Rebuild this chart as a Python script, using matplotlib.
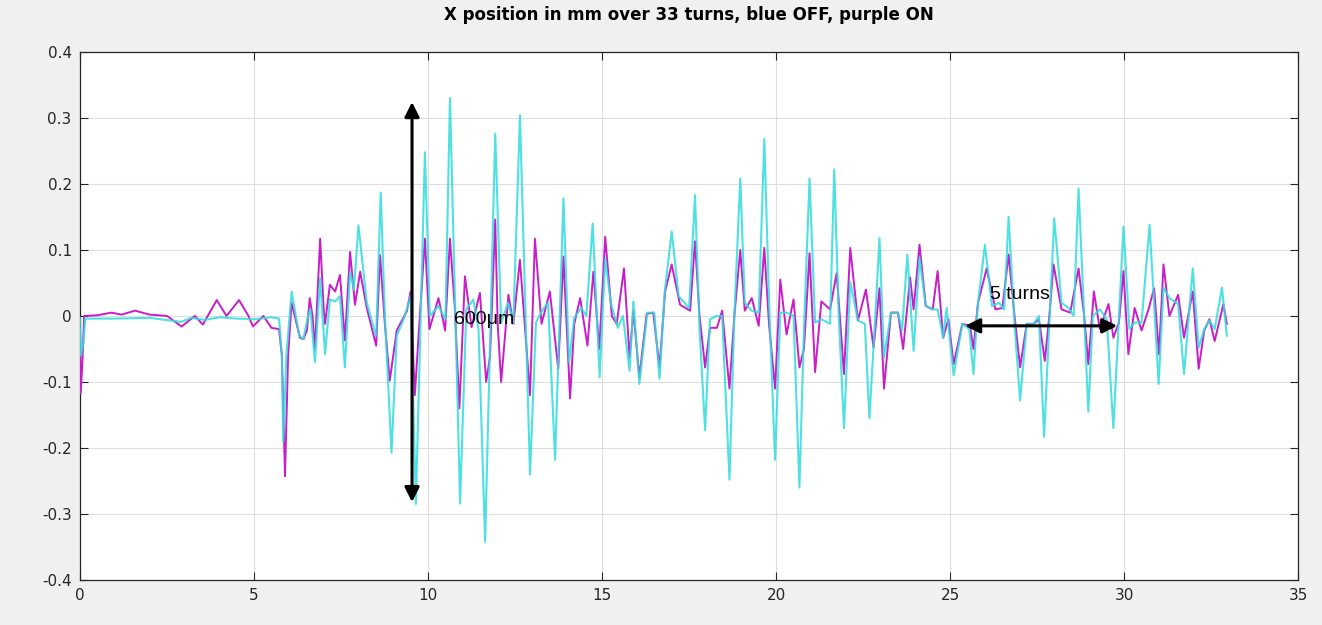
import matplotlib
matplotlib.use("Agg")
import matplotlib.pyplot as plt
from matplotlib.ticker import FuncFormatter, MultipleLocator

plt.rcParams["axes.unicode_minus"] = False

# X position (mm) vs turns, beam OFF (cyan)
off_turns = [
    0, 0.03, 0.1, 0.15, 1.0, 2.0, 2.9, 3.2, 3.6, 4.0, 4.5, 5.0, 5.5, 5.72,
    5.80, 5.84, 5.93, 6.08, 6.3, 6.42, 6.55, 6.62, 6.75, 6.9, 7.04, 7.18, 7.33, 7.47,
    7.61, 7.76, 7.87, 8.0, 8.24, 8.45, 8.51, 8.64, 8.76, 8.95, 9.1, 9.3, 9.5,
    9.65, 9.91, 10.05, 10.3, 10.5, 10.63, 10.92, 11.1, 11.3, 11.45, 11.64, 11.93,
    12.1, 12.3, 12.45, 12.64, 12.93, 13.1, 13.3, 13.45, 13.65, 13.89,
    14.05, 14.2, 14.4, 14.55, 14.73, 14.93, 15.09, 15.25, 15.45, 15.6, 15.79, 15.9,
    16.07, 16.3, 16.5, 16.65, 16.8, 17.0, 17.2, 17.5,
    17.67, 17.8, 17.96, 18.1, 18.3, 18.45, 18.66, 18.8, 18.97, 19.1, 19.3, 19.5,
    19.66, 19.8, 19.97, 20.12, 20.3, 20.5, 20.67, 20.8, 20.96, 21.12, 21.3, 21.55,
    21.67, 21.8, 21.95, 22.13, 22.35, 22.55, 22.68, 22.85, 22.97, 23.1, 23.3, 23.5,
    23.62, 23.77, 23.95, 24.12, 24.3, 24.5, 24.64, 24.8, 24.9, 25.1, 25.35, 25.55,
    25.67, 25.8, 26.0, 26.2, 26.4, 26.55, 26.68, 26.85, 27.01, 27.2, 27.4, 27.55,
    27.7, 27.85, 27.99, 28.2, 28.4, 28.55, 28.69, 28.85, 28.97, 29.1, 29.3, 29.5,
    29.69, 29.85, 29.98, 30.15, 30.3, 30.5, 30.73, 30.99, 31.13, 31.3, 31.55, 31.72,
    31.97, 32.14, 32.3, 32.45, 32.6, 32.81, 32.95,
]
off_pos = [
    -0.003, -0.06, -0.04, -0.004, -0.004, -0.003, -0.009, -0.003, -0.006, -0.002, -0.004, -0.005, -0.002, -0.004,
    -0.06, -0.19, -0.06, 0.037, -0.03, -0.035, 0.0, 0.01, -0.07, 0.057, -0.058, 0.025, 0.022, 0.03,
    -0.078, 0.067, 0.04, 0.137, 0.02, -0.02, -0.03, 0.187, 0.0, -0.207, -0.03, -0.005, 0.03,
    -0.285, 0.248, 0.0, 0.015, -0.005, 0.33, -0.284, 0.01, 0.025, -0.02, -0.342, 0.276,
    -0.01, 0.02, -0.01, 0.304, -0.24, -0.01, 0.01, 0.02, -0.218, 0.178,
    -0.07, -0.003, 0.012, 0.0, 0.14, -0.093, 0.087, 0.02, -0.018, 0.0, -0.083, 0.022,
    -0.103, 0.005, 0.005, -0.095, 0.037, 0.128, 0.03, 0.012,
    0.183, -0.02, -0.173, -0.005, 0.0, 0.0, -0.248, 0.0, 0.208, 0.02, 0.008, 0.005,
    0.268, 0.018, -0.218, 0.005, 0.005, 0.0, -0.26, -0.02, 0.208, -0.01, -0.005, -0.012,
    0.222, 0.0, -0.17, 0.052, -0.007, -0.012, -0.155, 0.0, 0.118, -0.063, 0.005, 0.005,
    -0.022, 0.093, -0.053, 0.088, 0.015, 0.01, 0.01, -0.033, 0.012, -0.09, -0.012, -0.02,
    -0.088, 0.02, 0.108, 0.015, 0.02, 0.01, 0.15, -0.012, -0.128, -0.012, -0.012, 0.0,
    -0.183, -0.012, 0.148, 0.02, 0.012, 0.0, 0.193, 0.0, -0.145, 0.0, 0.01, -0.005,
    -0.17, 0.0, 0.135, -0.02, -0.01, -0.01, 0.138, -0.103, 0.043, 0.027, 0.018, -0.088,
    0.072, -0.048, -0.02, -0.007, -0.02, 0.043, -0.03,
]

# beam ON (magenta)
on_turns = [
    0, 0.02, 0.07, 0.12, 0.5, 0.9, 1.2, 1.58, 2.0, 2.5, 2.92, 3.3, 3.53, 3.93,
    4.21, 4.57, 4.84, 4.97, 5.27, 5.5, 5.72, 5.80, 5.89, 5.98, 6.08, 6.32, 6.42, 6.52,
    6.6, 6.68, 6.75, 6.9, 7.0, 7.04, 7.18, 7.33, 7.47, 7.61, 7.76, 7.9, 8.05, 8.24,
    8.51, 8.62, 8.76, 8.9, 9.1, 9.39, 9.5, 9.62, 9.75, 9.91, 10.04, 10.3,
    10.49, 10.63, 10.77, 10.9, 11.06, 11.25, 11.49, 11.67, 11.78, 11.93, 12.0, 12.1,
    12.31, 12.45, 12.64, 12.93, 13.07, 13.26, 13.5, 13.74, 13.89, 14.08, 14.2, 14.37,
    14.58, 14.75, 14.92, 15.09, 15.28, 15.42, 15.63, 15.79, 15.9, 16.07, 16.28, 16.47,
    16.65, 16.81, 17.0, 17.24, 17.53, 17.67, 17.8, 17.96, 18.1, 18.3, 18.45, 18.66,
    18.8, 18.97, 19.1, 19.3, 19.5, 19.66, 19.8, 19.97, 20.12, 20.3, 20.5, 20.67,
    20.8, 20.96, 21.12, 21.3, 21.55, 21.74, 21.95, 22.13, 22.35, 22.58, 22.8, 22.97,
    23.1, 23.3, 23.5, 23.65, 23.85, 23.95, 24.12, 24.3, 24.5, 24.64, 24.8, 24.95,
    25.1, 25.35, 25.57, 25.67, 25.8, 26.05, 26.3, 26.5, 26.68, 26.85, 27.01, 27.2,
    27.4, 27.55, 27.72, 27.85, 27.97, 28.2, 28.45, 28.69, 28.85, 28.97, 29.13, 29.3,
    29.55, 29.69, 29.85, 29.98, 30.12, 30.3, 30.5, 30.7, 30.86, 31.0, 31.13, 31.3,
    31.55, 31.72, 31.97, 32.14, 32.3, 32.45, 32.6, 32.85, 32.95,
]
on_pos = [
    -0.02, -0.117, -0.07, 0.0, 0.001, 0.005, 0.002, 0.008, 0.002, 0.0, -0.016, 0.0, -0.013, 0.024,
    0.0, 0.024, 0.0, -0.016, 0.0, -0.018, -0.02, -0.06, -0.243, -0.06, 0.02, -0.033, -0.035, -0.022,
    0.027, 0.0, -0.05, 0.117, 0.012, -0.012, 0.047, 0.037, 0.062, -0.037, 0.097, 0.017, 0.067, 0.012,
    -0.045, 0.092, -0.012, -0.098, -0.022, 0.007, 0.037, -0.12, -0.012, 0.117, -0.02, 0.027,
    -0.022, 0.117, 0.012, -0.14, 0.06, -0.017, 0.035, -0.1, -0.062, 0.146, -0.012, -0.1,
    0.032, -0.012, 0.085, -0.12, 0.117, -0.012, 0.037, -0.08, 0.09, -0.125, -0.012, 0.027,
    -0.045, 0.067, -0.05, 0.12, 0.0, -0.012, 0.072, -0.063, 0.008, -0.093, 0.003, 0.005,
    -0.078, 0.037, 0.078, 0.017, 0.008, 0.113, 0.0, -0.078, -0.018, -0.018, 0.008, -0.11,
    0.0, 0.1, 0.008, 0.027, -0.015, 0.103, -0.015, -0.11, 0.055, -0.028, 0.025, -0.078,
    -0.05, 0.095, -0.085, 0.022, 0.01, 0.065, -0.088, 0.103, -0.007, 0.04, -0.048, 0.042,
    -0.11, 0.005, 0.005, -0.05, 0.058, 0.01, 0.108, 0.015, 0.01, 0.068, -0.033, -0.005,
    -0.073, -0.012, -0.015, -0.05, 0.02, 0.072, 0.01, 0.012, 0.093, 0.0, -0.078, -0.012,
    -0.012, -0.005, -0.068, 0.0, 0.078, 0.01, 0.005, 0.072, 0.0, -0.073, 0.037, -0.02,
    0.018, -0.033, -0.01, 0.068, -0.058, 0.012, -0.022, 0.01, 0.042, -0.058, 0.078, 0.0,
    0.032, -0.033, 0.037, -0.08, -0.022, -0.005, -0.038, 0.018, -0.012,
]

assert len(off_turns) == len(off_pos)
assert len(on_turns) == len(on_pos)

# annotations: (turn, mm)
span_arrow = [(9.54, -0.282), (9.54, 0.324)]
turns_arrow = [(25.43, -0.015), (29.8, -0.015)]

fig = plt.figure(figsize=(13.22, 6.25), dpi=100, facecolor="#f0f0f0")
ax = fig.add_axes([0.0605, 0.072, 0.9215, 0.845])
ax.set_facecolor("white")

ax.plot(on_turns, on_pos, color="#c81ec8", linewidth=1.4, zorder=3)
ax.plot(off_turns, off_pos, color="#30dcdc", linewidth=1.5, alpha=0.85, zorder=4)

ax.set_xlim(0, 35)
ax.set_ylim(-0.4, 0.4)
ax.xaxis.set_major_locator(MultipleLocator(5))
ax.yaxis.set_major_locator(MultipleLocator(0.1))
ax.yaxis.set_major_formatter(FuncFormatter(lambda v, p: f"{round(v, 2):g}"))
ax.grid(True, color="#dedede", linewidth=0.8, zorder=0)
ax.set_axisbelow(True)
ax.tick_params(direction="in", length=6, width=0.8, top=True, right=True,
               labelsize=11, labelcolor="#262626", colors="#262626", pad=6)
for s in ax.spines.values():
    s.set_color("#262626")
    s.set_linewidth(0.9)

ax.set_title("X position in mm over 33 turns, blue OFF, purple ON",
             fontsize=12, fontweight="bold", color="black", pad=23)

arrow_kw = dict(arrowstyle="<|-|>", color="black", lw=2.2, mutation_scale=22,
                shrinkA=0, shrinkB=0)
ax.annotate("", xy=span_arrow[1], xytext=span_arrow[0], arrowprops=arrow_kw, zorder=6)
ax.annotate("", xy=turns_arrow[1], xytext=turns_arrow[0], arrowprops=arrow_kw, zorder=6)

ax.text(10.75, -0.006, "600μm", fontsize=14, family="Liberation Sans",
        ha="left", va="center", zorder=7)
ax.text(26.15, 0.032, "5 turns", fontsize=14, family="Liberation Sans",
        ha="left", va="center", zorder=7)

fig.savefig("out.png", dpi=100, facecolor=fig.get_facecolor())
